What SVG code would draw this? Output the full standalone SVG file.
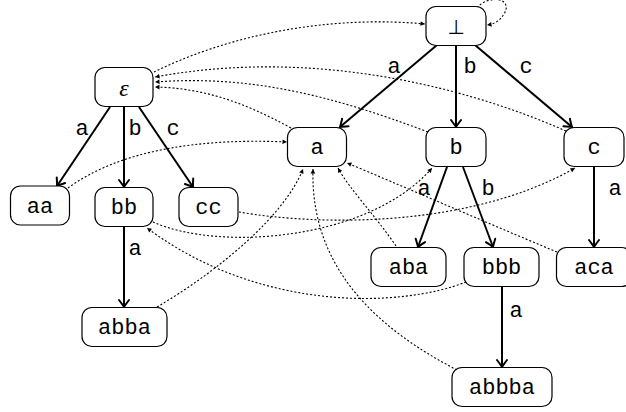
<svg xmlns="http://www.w3.org/2000/svg" width="626" height="412" viewBox="0 0 626 412">
<defs>
<style>
.box{fill:#fff;stroke:#000;stroke-width:1.2}
.t{font-family:"Liberation Mono","DejaVu Sans Mono",monospace;font-size:22px;text-anchor:middle;fill:#000}
.lbl{font-family:"Liberation Mono","DejaVu Sans Mono",monospace;font-size:22px;text-anchor:middle;fill:#000}
.e{stroke:#000;stroke-width:2;fill:none;marker-end:url(#ah)}
.d{stroke:#000;stroke-width:1.1;fill:none;stroke-dasharray:2 2;marker-end:url(#dh)}
</style>
<marker id="ah" markerUnits="userSpaceOnUse" viewBox="-9 -7 11 14" markerWidth="11" markerHeight="14" refX="0" refY="0" orient="auto">
<path d="M-7,-5 Q-2,-1.2 0,0 Q-2,1.2 -7,5" fill="none" stroke="#000" stroke-width="2" stroke-linecap="round"/>
</marker>
<marker id="dh" markerUnits="userSpaceOnUse" viewBox="-5 -3 6 6" markerWidth="6" markerHeight="6" refX="0" refY="0" orient="auto">
<path d="M-4.5,-2.3 L0,0 L-4.5,2.3 Z" fill="#000"/>
</marker>
</defs>
<rect width="626" height="412" fill="#fff"/>
<g id="connectors">
<line class="e" x1="437" y1="45" x2="340" y2="127"/>
<line class="e" x1="456" y1="46" x2="456" y2="127"/>
<line class="e" x1="475" y1="45" x2="572" y2="127"/>
<line class="e" x1="110" y1="107" x2="57" y2="186"/>
<line class="e" x1="124" y1="107" x2="124" y2="187"/>
<line class="e" x1="139" y1="107" x2="193" y2="187"/>
<line class="e" x1="124" y1="227" x2="124" y2="307"/>
<line class="e" x1="447" y1="167" x2="418" y2="247"/>
<line class="e" x1="463" y1="167" x2="493" y2="247"/>
<line class="e" x1="594" y1="167" x2="594" y2="247"/>
<line class="e" x1="502" y1="287" x2="502" y2="367"/>
<path class="d" d="M477,8 C488,-6 514,-2 504,14 C500,21 494,24 487,25"/>
<path class="d" d="M154,72 C240,30 340,16 425,24"/>
<path class="d" d="M566,131 C450,80 300,50 155,77"/>
<path class="d" d="M428,132 C330,95 250,75 155,82"/>
<path class="d" d="M291,128 C240,100 200,88 155,87"/>
<path class="d" d="M68,188 C120,150 200,138 287,142"/>
<path class="d" d="M239,212 C320,226 470,228 575,168"/>
<path class="d" d="M153,222 C220,252 370,240 432,168"/>
<path class="d" d="M466,282 C400,308 260,312 147,228"/>
<path class="d" d="M157,307 C220,270 285,215 303,169"/>
<path class="d" d="M457,370 C380,330 310,270 313,169"/>
<path class="d" d="M396,246 C375,215 350,190 338,168"/>
<path class="d" d="M557,252 C480,220 400,185 347,163"/>
</g>
<g id="edge-labels">
<text class="lbl" x="394" y="73">a</text>
<text class="lbl" x="470" y="73">b</text>
<text class="lbl" x="526" y="73">c</text>
<text class="lbl" x="82" y="135">a</text>
<text class="lbl" x="135" y="135">b</text>
<text class="lbl" x="173" y="135">c</text>
<text class="lbl" x="135" y="255">a</text>
<text class="lbl" x="424" y="195">a</text>
<text class="lbl" x="488" y="195">b</text>
<text class="lbl" x="615" y="195">a</text>
<text class="lbl" x="516" y="317">a</text>
</g>
<g id="n-bot"><rect class="box" x="426" y="6.5" width="60" height="39" rx="10"/><text x="456" y="34" font-family="'DejaVu Sans', sans-serif" font-size="20" text-anchor="middle" fill="#000">⊥</text></g>
<g id="n-eps"><rect class="box" x="95" y="67.5" width="58" height="39" rx="10"/><text x="124" y="96" font-family="'Liberation Serif', serif" font-style="italic" font-size="24" text-anchor="middle" fill="#000">ε</text></g>
<g id="n-aa"><rect class="box" x="10.5" y="186" width="59" height="39" rx="10"/><text class="t" x="40" y="213">aa</text></g>
<g id="n-bb"><rect class="box" x="95" y="187.5" width="58" height="39" rx="10"/><text class="t" x="124" y="214">bb</text></g>
<g id="n-cc"><rect class="box" x="179" y="187.5" width="59" height="39" rx="10"/><text class="t" x="208.5" y="214">cc</text></g>
<g id="n-a"><rect class="box" x="287.5" y="127.5" width="59" height="39" rx="10"/><text class="t" x="317" y="154">a</text></g>
<g id="n-b"><rect class="box" x="426" y="127.5" width="60" height="39" rx="10"/><text class="t" x="456" y="154">b</text></g>
<g id="n-c"><rect class="box" x="564" y="127.5" width="60" height="39" rx="10"/><text class="t" x="594" y="154">c</text></g>
<g id="n-aba"><rect class="box" x="371" y="247.5" width="75" height="39" rx="10"/><text class="t" x="408.5" y="274">aba</text></g>
<g id="n-bbb"><rect class="box" x="464" y="247.5" width="75" height="39" rx="10"/><text class="t" x="501.5" y="274">bbb</text></g>
<g id="n-aca"><rect class="box" x="556.5" y="247.5" width="75" height="39" rx="10"/><text class="t" x="594" y="274">aca</text></g>
<g id="n-abba"><rect class="box" x="82" y="307.5" width="85" height="39" rx="10"/><text class="t" x="124.5" y="334">abba</text></g>
<g id="n-abbba"><rect class="box" x="452" y="367.5" width="100" height="39" rx="10"/><text class="t" x="502" y="394">abbba</text></g>
</svg>
